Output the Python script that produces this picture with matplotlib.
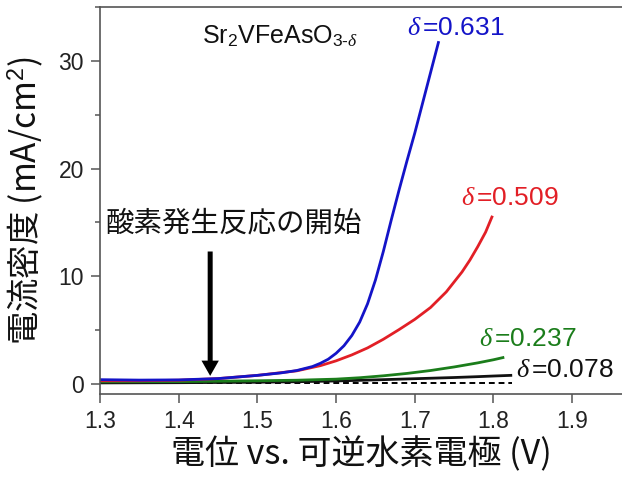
import matplotlib
matplotlib.use("Agg")
import matplotlib.pyplot as plt
from matplotlib.ticker import MultipleLocator

plt.rcParams['font.family'] = ['Liberation Sans', 'Noto Sans CJK JP', 'DejaVu Sans']
plt.rcParams['mathtext.fontset'] = 'custom'
plt.rcParams['mathtext.rm'] = 'Liberation Sans'
plt.rcParams['mathtext.sf'] = 'Liberation Sans'
plt.rcParams['mathtext.it'] = 'Liberation Serif:italic'

# Linear sweep voltammograms of Sr2VFeAsO(3-delta) for four oxygen deficiencies
v_0631 = [1.30, 1.35, 1.40, 1.45, 1.50, 1.53, 1.55, 1.57, 1.58, 1.59, 1.60, 1.61, 1.62,
          1.63, 1.64, 1.65, 1.66, 1.67, 1.68, 1.69, 1.70, 1.71, 1.72, 1.73]
j_0631 = [0.40, 0.36, 0.38, 0.50, 0.80, 1.03, 1.25, 1.62, 1.92, 2.30, 2.85, 3.55, 4.50,
          5.75, 7.45, 9.65, 12.3, 15.2, 18.0, 20.7, 23.3, 26.1, 28.9, 31.7]

v_0509 = [1.30, 1.35, 1.40, 1.45, 1.50, 1.55, 1.58, 1.60, 1.62, 1.64, 1.66, 1.68, 1.70,
          1.72, 1.74, 1.76, 1.77, 1.78, 1.79, 1.798]
j_0509 = [0.30, 0.30, 0.35, 0.50, 0.80, 1.22, 1.70, 2.15, 2.70, 3.35, 4.15, 5.05, 6.00,
          7.10, 8.55, 10.4, 11.5, 12.75, 14.1, 15.5]

v_0237 = [1.30, 1.40, 1.50, 1.55, 1.60, 1.63, 1.66, 1.69, 1.72, 1.75, 1.78, 1.80, 1.812]
j_0237 = [0.20, 0.22, 0.30, 0.35, 0.45, 0.58, 0.76, 0.98, 1.25, 1.58, 1.96, 2.25, 2.45]

v_0078 = [1.30, 1.40, 1.50, 1.55, 1.60, 1.65, 1.70, 1.75, 1.78, 1.80, 1.822]
j_0078 = [0.10, 0.12, 0.16, 0.21, 0.28, 0.38, 0.49, 0.60, 0.68, 0.74, 0.80]

v_base = [1.30, 1.823]
j_base = [0.05, 0.05]

series = [
    (v_0631, j_0631, '#1414c8', r'$\delta\,$=0.631', (1.690, 32.4)),
    (v_0509, j_0509, '#e21f26', r'$\delta\,$=0.509', (1.759, 16.6)),
    (v_0237, j_0237, '#1b7d1b', r'$\delta\,$=0.237', (1.782, 3.5)),
    (v_0078, j_0078, '#111111', r'$\delta\,$=0.078', (1.829, 0.68)),
]

fig = plt.figure(figsize=(6.22, 4.82), dpi=100)
ax = fig.add_axes([100 / 622, 88 / 482, 522 / 622, 387 / 482])

ax.plot(v_base, j_base, color='black', lw=1.4, ls=(0, (3, 2)))
for v, j, c, lab, pos in series[::-1]:
    ax.plot(v, j, color=c, lw=2.0, solid_joinstyle='round')
for v, j, c, lab, pos in series:
    ax.text(pos[0], pos[1], lab, color=c, fontsize=19, ha='left', va='baseline')

ax.text(1.4296, 31.66, r'Sr$_2$VFeAsO$_{3\text{-}\delta}$', fontsize=18, color='#111111',
        ha='left', va='baseline')

ax.text(1.3064, 14.95, '酸素発生反応の開始', fontsize=20.5, color='#111111',
        family=['Noto Sans CJK JP'], ha='left', va='center')
ax.annotate('', xy=(1.44, 0.75), xytext=(1.44, 12.3),
            arrowprops=dict(width=3.6, headwidth=12.5, headlength=11,
                            facecolor='black', edgecolor='none', shrink=0))

ax.set_xlim(1.3, 1.9633)
ax.set_ylim(-0.93, 35.0)
ax.set_xticks([1.3, 1.4, 1.5, 1.6, 1.7, 1.8, 1.9])
ax.set_xticklabels(['1.3', '1.4', '1.5', '1.6', '1.7', '1.8', '1.9'])
ax.set_yticks([0, 10, 20, 30])
ax.set_yticklabels(['0', '10', '20', '30'])
ax.yaxis.set_minor_locator(MultipleLocator(5))

for side in ['left', 'bottom', 'top']:
    ax.spines[side].set_color('#555555')
    ax.spines[side].set_linewidth(1.2)
ax.spines['right'].set_visible(False)

ax.tick_params(axis='both', which='major', direction='out', length=6.5, width=1.1,
               color='#555555', labelsize=16.5, labelcolor='#222222', pad=5)
ax.tick_params(axis='y', which='minor', direction='out', length=3.5, width=1.1,
               color='#555555')

ax.set_xlabel('電位 vs. 可逆水素電極 (V)', fontsize=24.5, family=['Noto Sans CJK JP'],
              color='#111111', labelpad=3)
ax.set_ylabel('電流密度 (mA/cm$^2$)', fontsize=24, family=['Noto Sans CJK JP'],
              color='#111111', labelpad=10)

fig.savefig('out.png', dpi=100)
